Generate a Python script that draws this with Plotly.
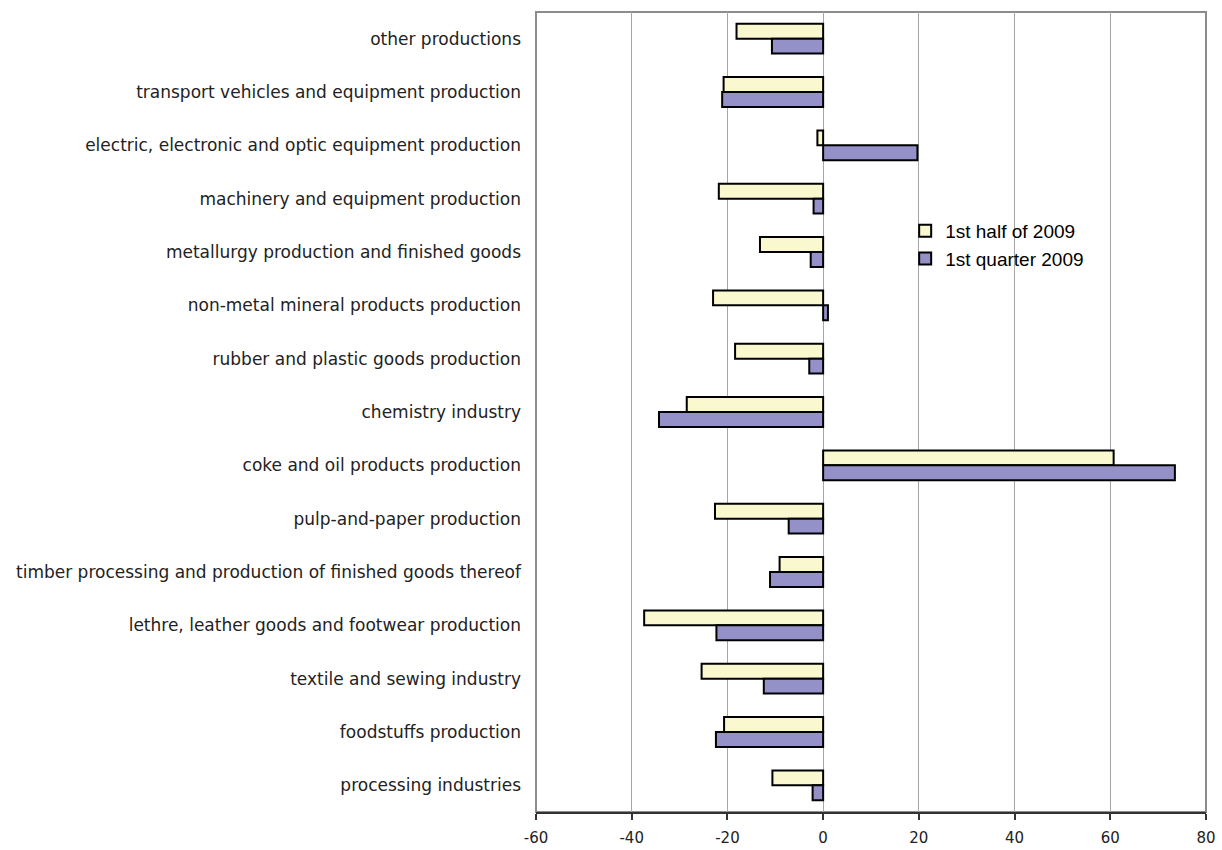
import plotly.graph_objects as go

# Industry categories, listed top to bottom as they appear on the chart
categories = [
    "other productions",
    "transport vehicles and equipment production",
    "electric, electronic and optic equipment production",
    "machinery and equipment production",
    "metallurgy production and finished goods",
    "non-metal mineral products production",
    "rubber and plastic goods production",
    "chemistry industry",
    "coke and oil products production",
    "pulp-and-paper production",
    "timber processing and production of finished goods thereof",
    "lethre, leather goods and footwear production",
    "textile and sewing industry",
    "foodstuffs production",
    "processing industries",
]

half_2009 = [-18.1, -20.8, -1.2, -21.8, -13.2, -23.0, -18.4, -28.5,
             60.7, -22.6, -9.1, -37.4, -25.4, -20.7, -10.6]
quarter_2009 = [-10.7, -21.1, 19.7, -2.0, -2.6, 1.0, -2.9, -34.3,
                73.5, -7.2, -11.1, -22.3, -12.4, -22.4, -2.2]

series_names = ["1st half of 2009", "1st quarter 2009"]
x_ticks = [-60, -40, -20, 0, 20, 40, 60, 80]

X_MIN, X_MAX = x_ticks[0], x_ticks[-1]
LABEL_FONT = "DejaVu Sans"

fig = go.Figure()
fig.add_trace(go.Bar(
    y=categories, x=half_2009, orientation="h", name=series_names[0],
    marker=dict(color="#FAF8CE", line=dict(color="#000000", width=2)),
))
fig.add_trace(go.Bar(
    y=categories, x=quarter_2009, orientation="h", name=series_names[1],
    marker=dict(color="#9391C8", line=dict(color="#000000", width=2)),
))

n = len(categories)
fig.update_layout(
    width=1222, height=850,
    margin=dict(l=536, r=16, t=12, b=38, autoexpand=False),
    paper_bgcolor="white", plot_bgcolor="white",
    barmode="group", bargap=0.44, bargroupgap=0,
    showlegend=True,
    legend=dict(
        x=0.551, y=0.75, xanchor="left", yanchor="top",
        font=dict(family="Liberation Sans, Arial", size=19, color="#000000"),
        bgcolor="rgba(0,0,0,0)", borderwidth=0, tracegroupgap=0,
        itemwidth=30,
    ),
    xaxis=dict(
        range=[X_MIN, X_MAX], tickvals=x_ticks,
        ticktext=[str(v) for v in x_ticks],
        automargin=False,
        showgrid=True, gridcolor="#A6A6A6", gridwidth=1,
        zeroline=False,
        showline=True, linecolor="#333333", linewidth=2,
        ticks="outside", ticklen=6, tickwidth=1.5, tickcolor="#333333",
        ticklabelstandoff=5,
        tickfont=dict(family=LABEL_FONT, size=15, color="#222222"),
    ),
    yaxis=dict(
        type="category", categoryorder="array", categoryarray=categories,
        autorange="reversed", automargin=False,
        showgrid=False, zeroline=False, showline=False,
        ticks="", ticklabelstandoff=14,
        tickfont=dict(family=LABEL_FONT, size=17, color="#222222"),
    ),
    # value axis at zero with category-boundary tick marks
    yaxis2=dict(
        overlaying="y", anchor="free",
        position=(0 - X_MIN) / (X_MAX - X_MIN),
        range=[n - 0.5, -0.5], tick0=0.5, dtick=1,
        showgrid=False, zeroline=False, automargin=False,
        showline=True, linecolor="#000000", linewidth=1.5,
        ticks="outside", ticklen=6, tickwidth=1.5, tickcolor="#000000",
        showticklabels=False,
    ),
    shapes=[dict(
        type="rect", xref="paper", yref="paper", x0=0, x1=1, y0=0, y1=1,
        line=dict(color="#8C8C8C", width=2), fillcolor="rgba(0,0,0,0)",
        layer="below",
    )],
)

fig.write_html("out.html")
